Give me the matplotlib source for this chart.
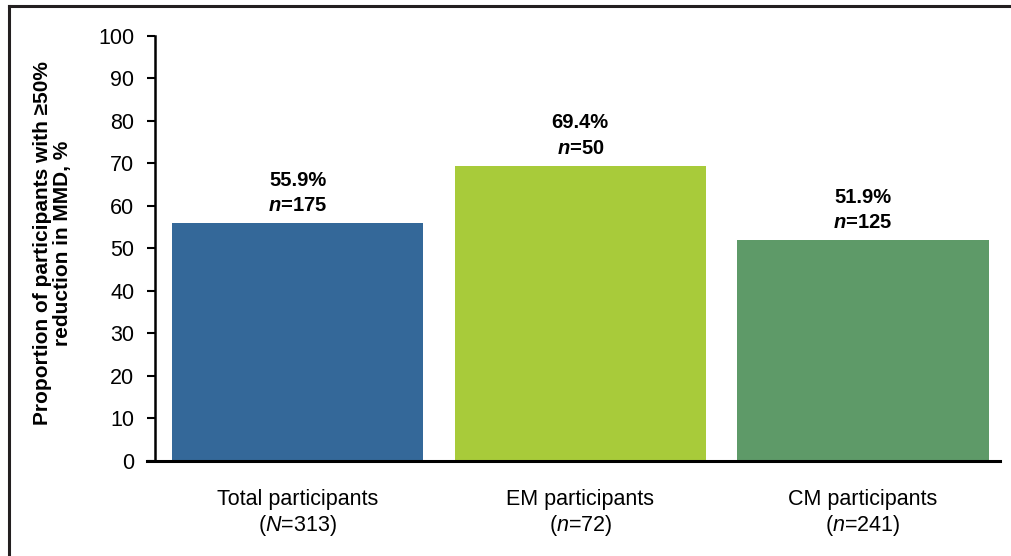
import numpy as np
from matplotlib import pyplot as plt
from matplotlib.lines import Line2D

plt.rcParams['font.family'] = ['Liberation Sans', 'DejaVu Sans']
plt.rcParams['mathtext.fontset'] = 'custom'
plt.rcParams['mathtext.it'] = 'Liberation Sans:italic'
plt.rcParams['mathtext.bfit'] = 'Liberation Sans:italic:bold'
plt.rcParams['mathtext.rm'] = 'Liberation Sans'

groups = ['Total participants\n($N$=313)', 'EM participants\n($n$=72)', 'CM participants\n($n$=241)']
percent = [55.9, 69.4, 51.9]
responders = [175, 50, 125]
colors = ['#346899', '#a8cb3a', '#5e9a68']

fig = plt.figure(figsize=(10.11, 5.56), dpi=100)
ax = fig.add_axes([0.1533, 0.1709, 0.8357, 0.7644])

x = np.arange(len(groups))
ax.bar(x, percent, width=0.89, color=colors)

for xi, p, n in zip(x, percent, responders):
    ax.annotate(f'{p:.1f}%\n' + r'$\mathbfit{n}$' + f'={n}', (xi, p),
                xytext=(0, 6), textcoords='offset points',
                ha='center', va='bottom', fontsize=14.5, fontweight='bold',
                linespacing=1.42)

ax.set_xlim(-0.505, 2.485)
ax.set_ylim(0, 100)
ax.set_yticks(range(0, 101, 10))
ax.set_xticks(x)
ax.set_xticklabels(groups, fontsize=15.5, linespacing=1.2)
ax.tick_params(axis='x', length=0, pad=20)
ax.tick_params(axis='y', length=6, width=1.5, labelsize=15.5, pad=9)

ax.spines['top'].set_visible(False)
ax.spines['right'].set_visible(False)
ax.spines['left'].set_linewidth(1.8)
ax.spines['bottom'].set_linewidth(2.2)
ax.spines['bottom'].set_bounds(-0.534, 2.485)

fig.text(0.052, 0.562, 'Proportion of participants with \u226550%\nreduction in MMD, %',
         rotation=90, ha='center', va='center', fontsize=15, fontweight='bold',
         linespacing=1.12)

# frame lines on the top and left of the figure
fig.add_artist(Line2D([0.0085, 1], [0.9892, 0.9892], color='#231f20', lw=2.2,
                      transform=fig.transFigure))
fig.add_artist(Line2D([0.0085, 0.0085], [0, 0.9892], color='#231f20', lw=2.2,
                      transform=fig.transFigure))

plt.savefig('out.png', dpi=100)
